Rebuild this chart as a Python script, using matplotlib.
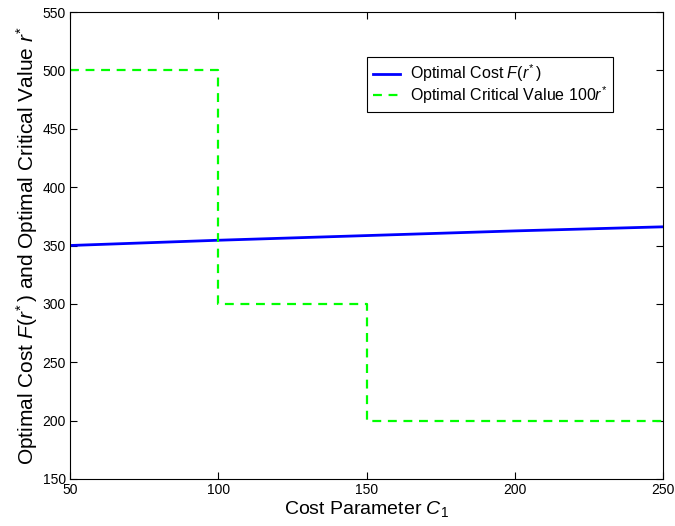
import matplotlib
matplotlib.use('Agg')
import matplotlib.pyplot as plt

plt.rcParams['font.family'] = ['Liberation Sans', 'DejaVu Sans']
plt.rcParams['mathtext.fontset'] = 'custom'
plt.rcParams['mathtext.rm'] = 'Liberation Sans'
plt.rcParams['mathtext.it'] = 'Liberation Sans:italic'

# cost parameter C1 and optimal cost F(r*)
c1 = [50, 100, 150, 200, 250]
opt_cost = [350, 354.5, 358.5, 362.5, 366]

# optimal critical value 100 r* (piecewise constant)
c1_steps = [50, 100, 100, 150, 150, 250]
crit_val = [500, 500, 300, 300, 200, 200]

fig = plt.figure(figsize=(6.75, 5.26), dpi=100)
ax = fig.add_axes([70 / 675, 47 / 526, 593 / 675, 467 / 526])

ax.plot(c1, opt_cost, color='#0000ff', lw=2, label=r'Optimal Cost $\mathit{F(r^{*}\,)}$')
ax.plot(c1_steps, crit_val, color='#00ff00', lw=1.6, ls=(0, (4, 3)),
        label='Optimal Critical Value 100$r^{*}$')

ax.set_xlim(50, 250)
ax.set_ylim(150, 550)
ax.set_xticks([50, 100, 150, 200, 250])
ax.set_yticks(range(150, 551, 50))
ax.tick_params(direction='in', top=True, right=True, labelsize=10, length=5, pad=3)

ax.set_xlabel('Cost Parameter $C_1$', fontsize=14, labelpad=1)
ax.set_ylabel(r'Optimal Cost $\mathit{F(r^{*}\,)}$ and Optimal Critical Value $r^{*}$',
              fontsize=15, labelpad=2)

leg = ax.legend(loc='upper left', bbox_to_anchor=(297 / 593, 1 - 45 / 467), fontsize=11.5,
                fancybox=False, edgecolor='black', framealpha=1,
                handlelength=1.7, handletextpad=0.65, borderpad=0.35,
                borderaxespad=0, labelspacing=0.0)
leg.get_frame().set_linewidth(0.8)

fig.savefig('out.png', dpi=100)
